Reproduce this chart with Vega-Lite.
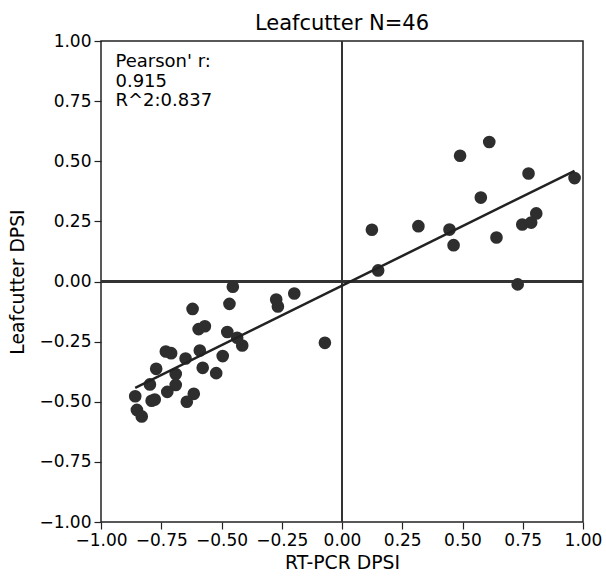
{
  "$schema": "https://vega.github.io/schema/vega-lite/v6.json",
  "autosize": "none",
  "width": 482,
  "height": 481,
  "padding": {"left": 101, "top": 41, "right": 23, "bottom": 57},
  "background": "white",
  "title": {"text": "Leafcutter N=46", "font": "DejaVu Sans", "fontSize": 21, "fontWeight": "normal", "color": "#000", "offset": -2},
  "config": {
    "view": {"stroke": "#222", "strokeWidth": 1.5},
    "axis": {"grid": false, "domain": false, "tickColor": "#222", "tickSize": 7, "tickWidth": 1.2, "labelPadding": 3,
      "labelFont": "DejaVu Sans", "labelFontSize": 17, "labelColor": "#000",
      "titleFont": "DejaVu Sans", "titleFontSize": 18.8, "titleFontWeight": "normal", "titleColor": "#000"}
  },
  "data": {"values": [
    {"rtpcr": 0.124, "leafcutter": 0.215},
    {"rtpcr": 0.150, "leafcutter": 0.046},
    {"rtpcr": 0.317, "leafcutter": 0.230},
    {"rtpcr": 0.446, "leafcutter": 0.216},
    {"rtpcr": 0.463, "leafcutter": 0.151},
    {"rtpcr": 0.490, "leafcutter": 0.523},
    {"rtpcr": 0.611, "leafcutter": 0.580},
    {"rtpcr": 0.576, "leafcutter": 0.349},
    {"rtpcr": 0.641, "leafcutter": 0.183},
    {"rtpcr": 0.729, "leafcutter": -0.012},
    {"rtpcr": 0.748, "leafcutter": 0.237},
    {"rtpcr": 0.774, "leafcutter": 0.449},
    {"rtpcr": 0.785, "leafcutter": 0.245},
    {"rtpcr": 0.806, "leafcutter": 0.283},
    {"rtpcr": 0.965, "leafcutter": 0.430},
    {"rtpcr": -0.453, "leafcutter": -0.022},
    {"rtpcr": -0.620, "leafcutter": -0.114},
    {"rtpcr": -0.467, "leafcutter": -0.093},
    {"rtpcr": -0.273, "leafcutter": -0.075},
    {"rtpcr": -0.266, "leafcutter": -0.104},
    {"rtpcr": -0.198, "leafcutter": -0.050},
    {"rtpcr": -0.595, "leafcutter": -0.198},
    {"rtpcr": -0.569, "leafcutter": -0.186},
    {"rtpcr": -0.476, "leafcutter": -0.210},
    {"rtpcr": -0.435, "leafcutter": -0.234},
    {"rtpcr": -0.414, "leafcutter": -0.266},
    {"rtpcr": -0.071, "leafcutter": -0.255},
    {"rtpcr": -0.731, "leafcutter": -0.291},
    {"rtpcr": -0.709, "leafcutter": -0.298},
    {"rtpcr": -0.590, "leafcutter": -0.287},
    {"rtpcr": -0.649, "leafcutter": -0.320},
    {"rtpcr": -0.495, "leafcutter": -0.310},
    {"rtpcr": -0.771, "leafcutter": -0.363},
    {"rtpcr": -0.690, "leafcutter": -0.385},
    {"rtpcr": -0.578, "leafcutter": -0.359},
    {"rtpcr": -0.522, "leafcutter": -0.381},
    {"rtpcr": -0.797, "leafcutter": -0.428},
    {"rtpcr": -0.690, "leafcutter": -0.430},
    {"rtpcr": -0.858, "leafcutter": -0.477},
    {"rtpcr": -0.725, "leafcutter": -0.459},
    {"rtpcr": -0.615, "leafcutter": -0.467},
    {"rtpcr": -0.790, "leafcutter": -0.496},
    {"rtpcr": -0.777, "leafcutter": -0.491},
    {"rtpcr": -0.644, "leafcutter": -0.500},
    {"rtpcr": -0.851, "leafcutter": -0.534},
    {"rtpcr": -0.831, "leafcutter": -0.561}
  ]},
  "layer": [
    {
      "mark": {"type": "rule", "color": "#333", "strokeWidth": 2},
      "encoding": {"x": {"datum": 0, "type": "quantitative"}}
    },
    {
      "mark": {"type": "rule", "color": "#333", "strokeWidth": 2},
      "encoding": {"y": {"datum": 0, "type": "quantitative"}}
    },
    {
      "mark": {"type": "circle", "color": "#2e2e2e", "opacity": 1, "size": 160},
      "encoding": {
        "x": {"field": "rtpcr", "type": "quantitative", "title": "RT-PCR DPSI",
          "scale": {"domain": [-1, 1], "nice": false, "zero": false},
          "axis": {"values": [-1, -0.75, -0.5, -0.25, 0, 0.25, 0.5, 0.75, 1], "format": ".2f", "labelFlush": false, "titlePadding": 5}},
        "y": {"field": "leafcutter", "type": "quantitative", "title": "Leafcutter DPSI",
          "scale": {"domain": [-1, 1], "nice": false, "zero": false},
          "axis": {"values": [-1, -0.75, -0.5, -0.25, 0, 0.25, 0.5, 0.75, 1], "format": ".2f", "labelFlush": false, "titlePadding": 11}}
      }
    },
    {
      "transform": [{"regression": "leafcutter", "on": "rtpcr"}],
      "mark": {"type": "line", "color": "#222", "strokeWidth": 2.5},
      "encoding": {
        "x": {"field": "rtpcr", "type": "quantitative"},
        "y": {"field": "leafcutter", "type": "quantitative"}
      }
    },
    {
      "data": {"values": [{"label": "annotation"}]},
      "mark": {"type": "text", "align": "left", "baseline": "top", "font": "DejaVu Sans", "fontSize": 18, "color": "#000", "lineHeight": 19.5,
        "text": ["Pearson' r:", "0.915", "R^2:0.837"]},
      "encoding": {
        "x": {"datum": -0.94, "type": "quantitative"},
        "y": {"datum": 0.95, "type": "quantitative"}
      }
    }
  ]
}
